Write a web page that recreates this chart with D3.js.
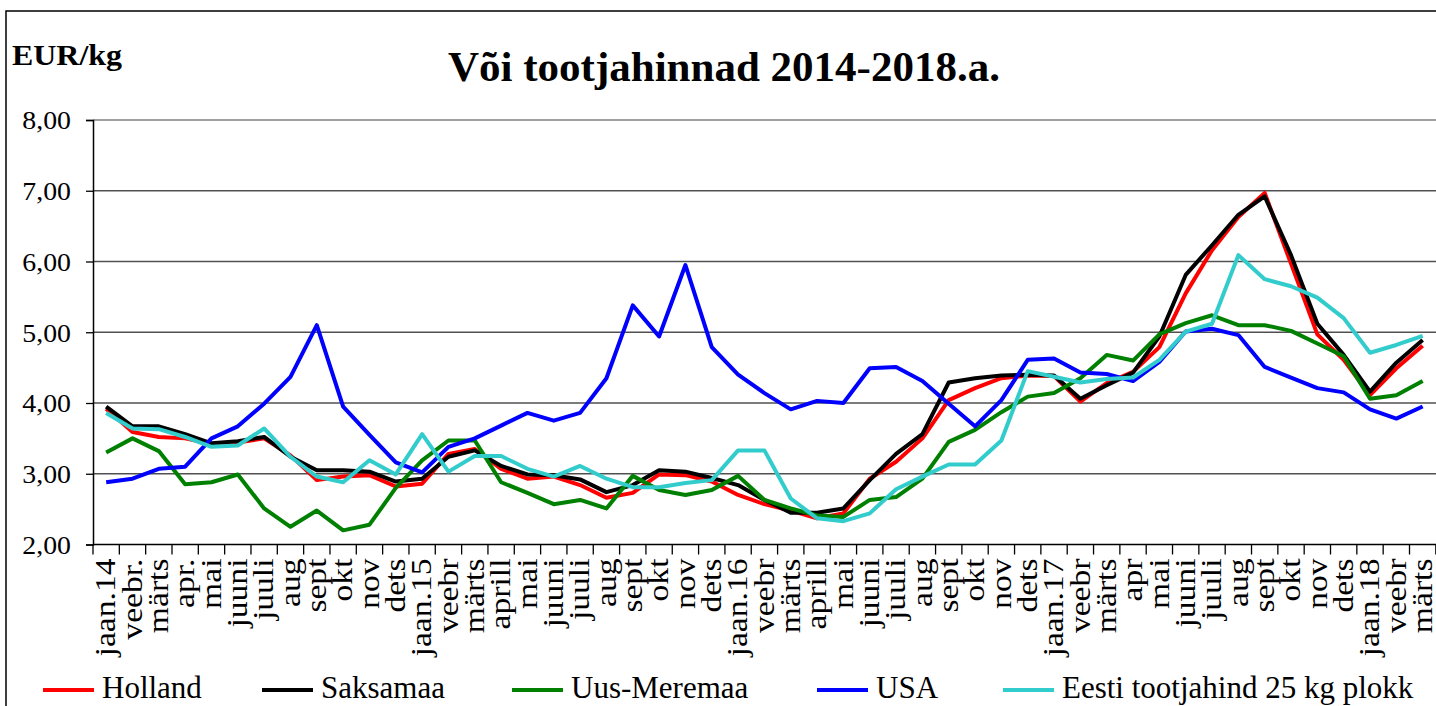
<!DOCTYPE html>
<html>
<head>
<meta charset="utf-8">
<script src="https://cdn.jsdelivr.net/npm/d3@7"></script>
<style>
  html, body { margin: 0; padding: 0; background: #fff; }
  svg { display: block; }
  text { font-family: "Liberation Serif", "Times New Roman", serif; fill: #000; }
</style>
</head>
<body>
<svg id="chart" width="1436" height="706"></svg>
<script>
const categories = ["jaan.14","veebr.","märts","apr.","mai","juuni","juuli","aug","sept","okt","nov","dets",
  "jaan.15","veebr","märts","aprill","mai","juuni","juuli","aug","sept","okt","nov","dets",
  "jaan.16","veebr","märts","aprill","mai","juuni","juuli","aug","sept","okt","nov","dets",
  "jaan.17","veebr","märts","apr","mai","juuni","juuli","aug","sept","okt","nov","dets",
  "jaan.18","veebr","märts"];

const holland = [3.92,3.59,3.52,3.50,3.42,3.44,3.50,3.26,2.91,2.96,2.98,2.82,
  2.86,3.28,3.35,3.07,2.93,2.96,2.84,2.66,2.73,2.99,2.98,2.89,
  2.70,2.57,2.48,2.37,2.44,2.93,3.17,3.50,4.04,4.21,4.35,4.39,
  4.38,4.02,4.28,4.44,4.79,5.55,6.16,6.63,6.97,5.97,4.97,4.61,
  4.11,4.49,4.81];
const saksamaa = [3.95,3.67,3.67,3.56,3.43,3.46,3.52,3.24,3.05,3.05,3.03,2.89,
  2.93,3.24,3.33,3.11,2.99,2.98,2.92,2.74,2.84,3.05,3.03,2.94,
  2.84,2.63,2.45,2.45,2.51,2.91,3.28,3.56,4.29,4.35,4.39,4.40,
  4.39,4.06,4.25,4.43,4.94,5.81,6.23,6.66,6.92,6.09,5.12,4.68,
  4.16,4.57,4.89];
const uusMeremaa = [3.30,3.50,3.32,2.85,2.88,2.99,2.51,2.25,2.48,2.20,2.28,2.80,
  3.19,3.47,3.47,2.88,2.73,2.57,2.63,2.51,2.97,2.77,2.70,2.77,
  2.97,2.63,2.51,2.41,2.39,2.63,2.67,2.93,3.45,3.62,3.87,4.09,
  4.14,4.35,4.68,4.60,4.97,5.13,5.24,5.10,5.10,5.02,4.84,4.66,
  4.06,4.11,4.31];
const usa = [2.88,2.93,3.07,3.10,3.50,3.67,3.99,4.37,5.10,3.95,3.55,3.16,
  3.02,3.38,3.50,3.68,3.86,3.75,3.86,4.35,5.38,4.94,5.95,4.79,
  4.40,4.14,3.91,4.03,4.00,4.49,4.51,4.31,3.99,3.67,4.04,4.61,
  4.63,4.43,4.41,4.31,4.58,5.01,5.05,4.96,4.51,4.36,4.21,4.15,
  3.91,3.78,3.95];
const eesti = [3.86,3.64,3.63,3.52,3.38,3.40,3.64,3.24,2.96,2.88,3.19,2.99,
  3.56,3.03,3.25,3.25,3.07,2.96,3.11,2.93,2.81,2.81,2.87,2.91,
  3.33,3.33,2.65,2.37,2.33,2.44,2.78,2.96,3.13,3.13,3.47,4.45,
  4.37,4.29,4.34,4.36,4.61,5.01,5.12,6.09,5.75,5.65,5.49,5.20,
  4.71,4.82,4.95];

const seriesNames = ["Holland","Saksamaa","Uus-Meremaa","USA","Eesti tootjahind 25 kg plokk"];
const seriesColors = ["#FF0000","#000000","#008000","#0000FF","#33CCCC"];
const seriesValues = [holland, saksamaa, uusMeremaa, usa, eesti];
const yTicks = [2,3,4,5,6,7,8];

const svg = d3.select("#chart");

// outer frame
svg.append("rect").attr("x",6).attr("y",11).attr("width",1460).attr("height",720)
  .attr("fill","none").attr("stroke","#000").attr("stroke-width",1.5);

const plotLeft = 93, plotTop = 120, plotBottom = 544.5, bandW = 26.33;
const x = d3.scaleBand().domain(d3.range(categories.length))
  .range([plotLeft, plotLeft + bandW*categories.length]).paddingInner(0).paddingOuter(0);
const y = d3.scaleLinear().domain([2,8]).range([plotBottom, plotTop]);

// gridlines
svg.append("g").selectAll("line").data(yTicks.filter(d => d > 2)).join("line")
  .attr("x1", plotLeft).attr("x2", 1436)
  .attr("y1", d => y(d)).attr("y2", d => y(d))
  .attr("stroke", d => d === 8 ? "#a0a0a0" : "#505050")
  .attr("stroke-width", d => d === 8 ? 2 : 1.3);

// y axis
const yAxis = svg.append("g").attr("transform",`translate(${plotLeft},0)`)
  .call(d3.axisLeft(y).tickValues(yTicks).tickSize(7).tickPadding(0)
    .tickFormat(d => d.toFixed(2).replace(".", ",")));
yAxis.select(".domain").attr("stroke","#000").attr("stroke-width",1.5);
yAxis.selectAll(".tick line").attr("stroke","#000").attr("stroke-width",1.3);
yAxis.selectAll(".tick text").attr("font-size",26).attr("fill","#000")
  .attr("x",0).attr("dy","0.34em")
  .attr("transform","translate(-22,0) scale(1.07,1)");

// x axis
const xAxis = svg.append("g").attr("transform",`translate(0,${plotBottom})`)
  .call(d3.axisBottom(x).tickSize(0).tickFormat(i => categories[i]));
xAxis.select(".domain").remove();
xAxis.append("line").attr("x1",plotLeft).attr("x2",1436).attr("y1",0).attr("y2",0)
  .attr("stroke","#000").attr("stroke-width",1.5);
xAxis.selectAll(".tick text")
  .attr("font-size",30).attr("fill","#000")
  .attr("text-anchor","end")
  .attr("transform","translate(0,14) rotate(-90) scale(1.12,1)")
  .attr("x",0).attr("y",0).attr("dy","0.31em");
// band boundary tick marks
xAxis.append("g").selectAll("line").data(d3.range(categories.length + 1)).join("line")
  .attr("x1", i => plotLeft + i*x.bandwidth()).attr("x2", i => plotLeft + i*x.bandwidth())
  .attr("y1",0).attr("y2",10).attr("stroke","#000").attr("stroke-width",1.3);

// lines
const line = d3.line().x((d,i) => x(i) + x.bandwidth()/2).y(d => y(d));
svg.append("g").selectAll("path").data(seriesValues).join("path")
  .attr("d", d => line(d))
  .attr("fill","none")
  .attr("stroke",(d,i) => seriesColors[i])
  .attr("stroke-width",4)
  .attr("stroke-linejoin","round");

// title
svg.append("text").attr("x",724).attr("y",81).attr("text-anchor","middle")
  .attr("font-size",43).attr("font-weight","bold").text("Või tootjahinnad 2014-2018.a.");
svg.append("text").attr("x",12).attr("y",65)
  .attr("font-size",29).attr("font-weight","bold")
  .attr("textLength",110).attr("lengthAdjust","spacingAndGlyphs").text("EUR/kg");

// legend
const legendX = [43, 262, 512, 817, 1003];
const lg = svg.append("g").selectAll("g").data(seriesNames).join("g")
  .attr("transform",(d,i) => `translate(${legendX[i]},690)`);
lg.append("line").attr("x1",0).attr("x2",51).attr("y1",0).attr("y2",0)
  .attr("stroke",(d,i) => seriesColors[i]).attr("stroke-width",4);
lg.append("text").attr("x",59).attr("y",8).attr("font-size",31).text(d => d);
</script>
</body>
</html>
